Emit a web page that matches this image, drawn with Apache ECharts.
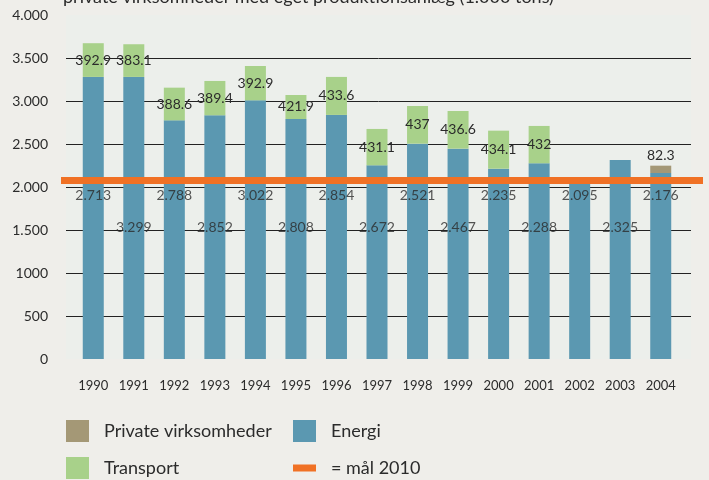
<!DOCTYPE html>
<html>
<head>
<meta charset="utf-8">
<script src="https://cdn.jsdelivr.net/npm/echarts@6/dist/echarts.min.js"></script>
<style>
  html, body { margin: 0; padding: 0; background: #efeeea; }
  #chart { width: 709px; height: 480px; }
</style>
</head>
<body>
<div id="chart"></div>
<script>
// år
const years = ['1990', '1991', '1992', '1993', '1994', '1995', '1996', '1997',
  '1998', '1999', '2000', '2001', '2002', '2003', '2004']
// søjlehøjder aflæst af figuren (1000 tons)
const energi = [3280, 3280, 2775, 2834, 3008, 2791, 2838, 2252, 2504, 2446, 2213, 2276, 2070, 2314, 2163]
const transport = [392, 380, 380, 399, 399, 279, 442, 423, 438, 438, 442, 434, 0, 0, 0]
const privat = [0, 0, 0, 0, 0, 0, 0, 0, 0, 0, 0, 0, 0, 0, 85]
// tekster som de står på figuren
const energiLabels = ['2.713', '3.299', '2.788', '2.852', '3.022', '2.808', '2.854', '2.672',
  '2.521', '2.467', '2.235', '2.288', '2.095', '2.325', '2.176']
const transportLabels = ['392.9', '383.1', '388.6', '389.4', '392.9', '421.9', '433.6', '431.1',
  '437', '436.6', '434.1', '432', '', '', '']
const privatLabels = ['', '', '', '', '', '', '', '', '', '', '', '', '', '', '82.3']
const yTickLabels = ['0', '500', '1000', '1.500', '2.000', '2.500', '3.000', '3.500', '4.000']
// mål 2010
const goal = 2075

const FONT = 'Lato'
const TXT = '#2b2b2b'
const chart = echarts.init(document.getElementById('chart'))

// energi-tallene står i to rækker under mållinjen
const labelRows = years.map((y, i) => (i % 2 === 0 ? 1905 : 1535))

const legendBase = {
  padding: 0,
  itemWidth: 23,
  itemHeight: 22,
  selectedMode: false,
  textStyle: { fontFamily: FONT, fontSize: 18, color: TXT, padding: [0, 0, 0, 10] }
}

const option = {
  backgroundColor: '#efeeea',
  animation: false,
  textStyle: { fontFamily: FONT },
  graphic: [{
    type: 'text',
    left: 63,
    top: -12,
    style: {
      text: 'private virksomheder med eget produktionsanlæg (1.000 tons)',
      font: '18px Lato',
      fill: TXT
    }
  }],
  grid: [
    // baggrund og gitterlinjer
    { left: 66, right: 18, top: 15, bottom: 121, show: true, backgroundColor: '#ecefeb', borderWidth: 0, outerBoundsMode: 'none' },
    // søjler
    { left: 73, right: 28, top: 15, bottom: 121, outerBoundsMode: 'none' },
    // mållinje
    { left: 61, right: 6, top: 15, bottom: 121, outerBoundsMode: 'none' }
  ],
  xAxis: [
    { gridIndex: 0, type: 'value', min: 0, max: 1, show: false },
    {
      gridIndex: 1,
      type: 'category',
      data: years,
      axisLine: { show: false },
      axisTick: { show: false },
      axisLabel: { margin: 20, fontFamily: FONT, fontSize: 13, color: TXT }
    },
    { gridIndex: 2, type: 'value', min: 0, max: 1, show: false }
  ],
  yAxis: [
    {
      gridIndex: 0,
      type: 'value',
      min: 0,
      max: 4000,
      interval: 500,
      axisLine: { show: false },
      axisTick: { show: false },
      axisLabel: {
        margin: 18,
        fontFamily: FONT,
        fontSize: 14,
        color: TXT,
        formatter: (v) => yTickLabels[Math.round(v / 500)]
      },
      splitLine: { show: true, showMinLine: false, showMaxLine: false, lineStyle: { color: '#222', width: 1 } }
    },
    { gridIndex: 1, type: 'value', min: 0, max: 4000, show: false },
    { gridIndex: 2, type: 'value', min: 0, max: 4000, show: false }
  ],
  legend: [
    Object.assign({}, legendBase, { left: 66, top: 420, data: [{ name: 'Private virksomheder', icon: 'rect' }] }),
    Object.assign({}, legendBase, { left: 293, top: 420, data: [{ name: 'Energi', icon: 'rect' }] }),
    Object.assign({}, legendBase, { left: 66, top: 457, data: [{ name: 'Transport', icon: 'rect' }] }),
    Object.assign({}, legendBase, { left: 293, top: 459, itemHeight: 7, data: [{ name: '= mål 2010', icon: 'rect' }] })
  ],
  series: [
    {
      name: 'Energi',
      type: 'bar',
      xAxisIndex: 1,
      yAxisIndex: 1,
      stack: 'total',
      barWidth: 21,
      data: energi,
      itemStyle: { color: '#5b98b1' }
    },
    {
      name: 'Transport',
      type: 'bar',
      xAxisIndex: 1,
      yAxisIndex: 1,
      stack: 'total',
      barWidth: 21,
      data: transport,
      itemStyle: { color: '#a8d18a' },
      label: {
        show: true,
        position: 'inside',
        fontFamily: FONT,
        fontSize: 14,
        color: TXT,
        formatter: (p) => transportLabels[p.dataIndex]
      }
    },
    {
      name: 'Private virksomheder',
      type: 'bar',
      xAxisIndex: 1,
      yAxisIndex: 1,
      stack: 'total',
      barWidth: 21,
      data: privat,
      itemStyle: { color: '#a49876' },
      label: {
        show: true,
        position: 'top',
        distance: 3,
        fontFamily: FONT,
        fontSize: 14,
        color: TXT,
        formatter: (p) => privatLabels[p.dataIndex]
      }
    },
    {
      // energi-tal
      type: 'scatter',
      xAxisIndex: 1,
      yAxisIndex: 1,
      symbolSize: 1,
      itemStyle: { color: 'rgba(0,0,0,0)' },
      data: labelRows,
      z: 6,
      label: {
        show: true,
        position: 'inside',
        fontFamily: FONT,
        fontSize: 14,
        color: TXT,
        formatter: (p) => energiLabels[p.dataIndex]
      }
    },
    {
      name: '= mål 2010',
      type: 'line',
      xAxisIndex: 2,
      yAxisIndex: 2,
      data: [[0, goal], [1, goal]],
      symbol: 'none',
      z: 5,
      itemStyle: { color: '#f07125' },
      lineStyle: { color: '#f07125', width: 7 }
    }
  ]
}

chart.setOption(option)
</script>
</body>
</html>
